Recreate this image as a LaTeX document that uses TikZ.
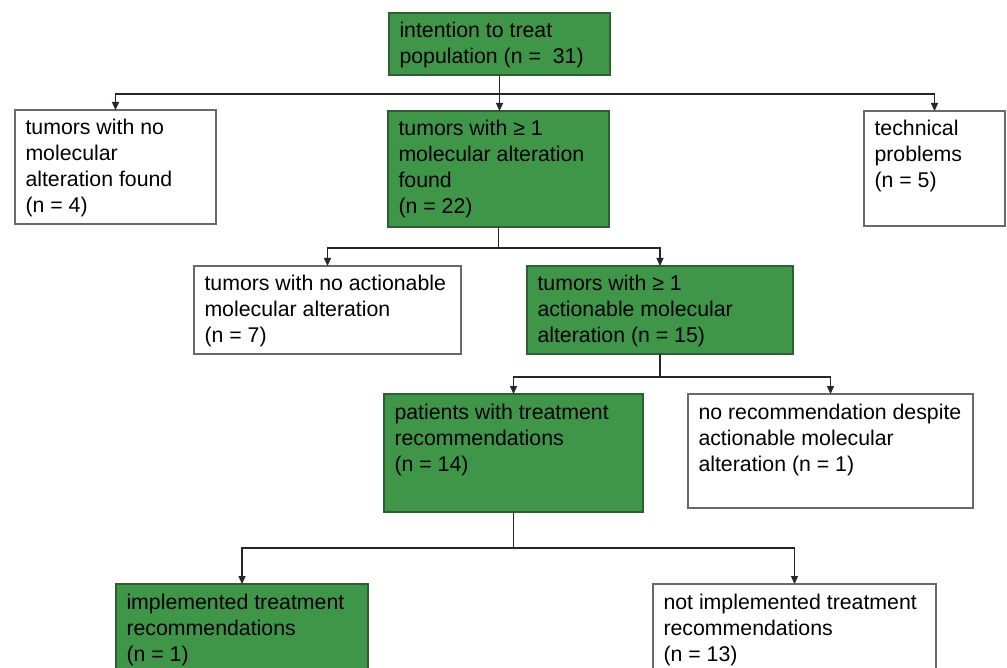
\documentclass[tikz,border=0pt]{standalone}
\usepackage{fontspec}
\setmainfont{Liberation Sans}
\usetikzlibrary{arrows.meta}
\definecolor{boxgreen}{RGB}{64,150,72}
\definecolor{greenedge}{RGB}{45,95,50}
\definecolor{greyedge}{RGB}{105,105,105}
\newcommand\mybt[3]{\parbox[c][#1][t]{#2}{\raggedright\rule{0pt}{25pt}#3}}
\tikzset{
  base/.style={draw, rectangle, anchor=north west, inner xsep=10.5pt, inner ysep=0pt, outer sep=0pt, line width=1.3pt,
    font=\fontsize{21.3}{26}\selectfont},
  gbox/.style={base, fill=boxgreen, draw=greenedge},
  wbox/.style={base, fill=white, draw=greyedge},
  conn/.style={line width=1.3pt, draw=black!85},
  arr/.style={conn, -{Triangle[length=8pt,width=7pt]}}
}
\begin{document}
\begin{tikzpicture}[x=1pt,y=-1pt]
\useasboundingbox (0,0) rectangle (1007,668);
\clip (0,0) rectangle (1007,668);
\fill[white] (0,0) rectangle (1007,668);
% boxes
\node[gbox] (A) at (389,13) {\mybt{62pt}{200pt}{intention to treat\\population (n =\ \ 31)}};
\node[wbox] (B1) at (15,110) {\mybt{114pt}{180pt}{tumors with no\\molecular\\alteration found\\(n = 4)}};
\node[gbox] (B2) at (388,111) {\mybt{116pt}{200pt}{tumors with ≥ 1\\molecular alteration\\found\\(n = 22)}};
\node[wbox] (B3) at (864,111) {\mybt{115pt}{120pt}{technical\\problems\\(n = 5)}};
\node[wbox] (C1) at (194,266) {\mybt{88pt}{246pt}{tumors with no actionable\\molecular alteration\\(n = 7)}};
\node[gbox] (C2) at (527,266) {\mybt{88pt}{245pt}{tumors with ≥ 1\\actionable molecular\\alteration (n = 15)}};
\node[gbox] (D1) at (384,394) {\mybt{118pt}{238pt}{patients with treatment\\recommendations\\(n = 14)}};
\node[wbox] (D2) at (688,394) {\mybt{114pt}{264pt}{no recommendation despite\\actionable molecular\\alteration (n = 1)}};
\node[gbox] (E1) at (116,584) {\mybt{120pt}{231pt}{implemented treatment\\recommendations\\(n = 1)}};
\node[wbox] (E2) at (653,584) {\mybt{120pt}{262pt}{not implemented treatment\\recommendations\\(n = 13)}};
% junctions
\coordinate (j1) at (A.south |- 0,94);
\coordinate (j2) at (B2.south |- 0,248);
\coordinate (j3) at (C2.south |- 0,377);
\coordinate (j4) at (D1.south |- 0,548);
% connectors
\draw[arr] (A.south) -- (A.south |- B2.north);
\draw[arr] (j1) -| (B1.north);
\draw[arr] (j1) -| (B3.north);
\draw[conn] (B2.south) -- (j2);
\draw[arr] (j2) -| (C1.north);
\draw[arr] (j2) -| (C2.north);
\draw[conn] (C2.south) -- (j3);
\draw[arr] (j3) -| (D1.north);
\draw[arr] (j3) -| (D2.north);
\draw[conn] (D1.south) -- (j4);
\draw[arr] (j4) -| (E1.north);
\draw[arr] (j4) -| (E2.north);
\end{tikzpicture}
\end{document}
